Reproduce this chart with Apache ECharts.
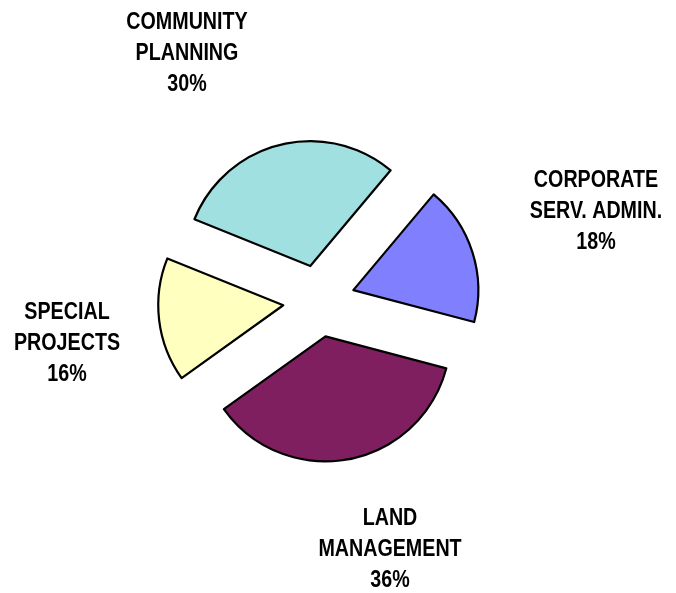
<!DOCTYPE html>
<html>
<head>
<meta charset="utf-8">
<script src="https://cdn.jsdelivr.net/npm/echarts@6/dist/echarts.min.js"></script>
<style>
  html, body { margin: 0; padding: 0; background: #ffffff; }
  #chart { width: 676px; height: 593px; }
</style>
</head>
<body>
<div id="chart"></div>
<script>
// Budget share by division (percent), clockwise from upper right
const categories = ['CORPORATE\nSERV. ADMIN.', 'LAND\nMANAGEMENT', 'SPECIAL\nPROJECTS', 'COMMUNITY\nPLANNING'];
const shares = [18, 36, 16, 30];
const sliceColors = ['#8080FF', '#7F1F5F', '#FFFFC0', '#A0E0E0'];

// Label block centres (px)
const labelCenters = [[596, 211], [390, 549.5], [67, 343.5], [187, 53]];

const chart = echarts.init(document.getElementById('chart'), null, { renderer: 'canvas' });

// Condensed bold caption for each slice: name plus its percentage
const captions = categories.map((name, i) => ({
  type: 'text',
  x: labelCenters[i][0],
  y: labelCenters[i][1],
  scaleX: 0.82,
  silent: true,
  style: {
    text: name + '\n' + shares[i] + '%',
    font: 'bold 24px "Liberation Sans", Arial, sans-serif',
    fill: '#000000',
    textAlign: 'center',
    textVerticalAlign: 'middle',
    lineHeight: 31
  }
}));

chart.setOption({
  animation: false,
  backgroundColor: '#ffffff',
  graphic: captions,
  series: [{
    type: 'pie',
    center: [319, 301],
    radius: [0, 125],
    startAngle: 50,
    clockwise: true,
    selectedMode: 'multiple',
    selectedOffset: 36,
    data: categories.map((name, i) => ({
      name: name,
      value: shares[i],
      selected: true,
      itemStyle: { color: sliceColors[i] }
    })),
    itemStyle: { borderColor: '#000000', borderWidth: 2.2 },
    label: { show: false },
    labelLine: { show: false },
    emphasis: { disabled: true }
  }]
});
</script>
</body>
</html>
